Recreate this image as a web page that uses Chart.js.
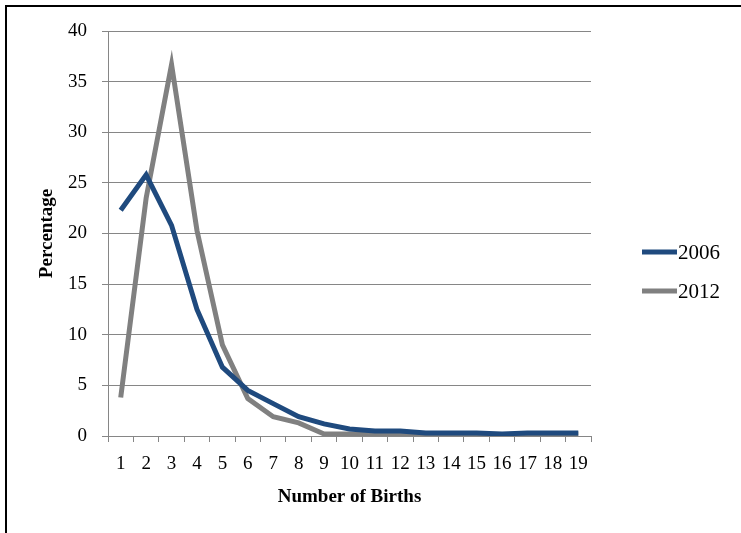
<!DOCTYPE html>
<html>
<head>
<meta charset="utf-8">
<script src="https://cdn.jsdelivr.net/npm/chart.js@4"></script>
<style>
  html, body { margin: 0; padding: 0; background: #fff; }
  body { width: 741px; height: 533px; position: relative; overflow: hidden; }
  #frame { position: absolute; left: 5px; top: 5px; width: 800px; height: 600px;
           border-left: 2px solid #000; border-top: 2px solid #000; }
  #wrap { position: absolute; left: 0; top: 0; width: 741px; height: 533px; }
</style>
</head>
<body>
<div id="frame"></div>
<div id="wrap"><canvas id="birthChart" width="741" height="533"></canvas></div>
<script>
// number of births (categories)
let births = ["1","2","3","4","5","6","7","8","9","10","11","12","13","14","15","16","17","18","19"];

// percentages
let pct2006 = [22.3, 25.8, 20.8, 12.5, 6.8, 4.5, 3.2, 1.9, 1.2, 0.7, 0.5, 0.5, 0.3, 0.3, 0.3, 0.2, 0.3, 0.3, 0.3];
let pct2012 = [3.8, 23.5, 36.7, 20.3, 9.0, 3.7, 1.9, 1.3, 0.2, 0.2, 0.2, 0.2, 0.2, 0.2, 0.2, 0.1, 0.2, 0.2, 0.2];

let seriesNames = ["2006", "2012"];
let yTicks = [0, 5, 10, 15, 20, 25, 30, 35, 40];

const gridColor = "#868686";
const serif = "'Liberation Serif', 'Times New Roman', serif";

// legend drawn by hand, to the right of the plot
const sideLegend = {
  id: "sideLegend",
  afterDraw(chart) {
    const ctx = chart.ctx;
    ctx.save();
    chart.data.datasets.forEach((ds, i) => {
      let y = 252 + i * 39;
      ctx.strokeStyle = ds.borderColor;
      ctx.lineWidth = 5;
      ctx.beginPath();
      ctx.moveTo(642, y);
      ctx.lineTo(677, y);
      ctx.stroke();
      ctx.fillStyle = "#000";
      ctx.font = "21px " + serif;
      ctx.textBaseline = "middle";
      ctx.textAlign = "left";
      ctx.fillText(ds.label, 678, y + 1);
    });
    ctx.restore();
  }
};

const ctx = document.getElementById("birthChart").getContext("2d");
let chart = new Chart(ctx, {
  type: "line",
  data: {
    labels: births,
    datasets: [{
      label: seriesNames[0],
      data: pct2006,
      borderColor: "#1f4a7e",
      borderWidth: 5,
      pointRadius: 0,
      tension: 0,
      fill: false
    }, {
      label: seriesNames[1],
      data: pct2012,
      borderColor: "#808080",
      borderWidth: 5,
      pointRadius: 0,
      tension: 0,
      fill: false
    }]
  },
  options: {
    responsive: false,
    animation: false,
    layout: { padding: { left: 0, top: 31, right: 150, bottom: 0 } },
    plugins: {
      legend: { display: false },
      tooltip: { enabled: false }
    },
    scales: {
      x: {
        offset: true,
        grid: {
          offset: true,
          drawOnChartArea: false,
          drawTicks: true,
          tickLength: 6,
          color: gridColor
        },
        border: { color: gridColor, width: 1 },
        ticks: {
          color: "#000",
          font: { family: serif, size: 19 },
          padding: 11,
          maxRotation: 0,
          autoSkip: false
        },
        title: {
          display: true,
          text: "Number of Births",
          color: "#000",
          font: { family: serif, size: 19, weight: "bold" },
          padding: { bottom: 25 }
        },
        afterFit(scale) { scale.height = 97; }
      },
      y: {
        min: 0,
        max: 40,
        afterBuildTicks(scale) {
          scale.ticks = yTicks.map(v => ({ value: v }));
        },
        grid: {
          color: gridColor,
          lineWidth: 1,
          drawTicks: true,
          tickLength: 6
        },
        border: { color: gridColor, width: 1 },
        ticks: {
          color: "#000",
          font: { family: serif, size: 19 },
          padding: 15
        },
        title: {
          display: true,
          text: "Percentage",
          color: "#000",
          font: { family: serif, size: 19, weight: "bold" },
          padding: { top: 36 }
        },
        afterFit(scale) { scale.width = 108; }
      }
    }
  },
  plugins: [sideLegend]
});
</script>
</body>
</html>
